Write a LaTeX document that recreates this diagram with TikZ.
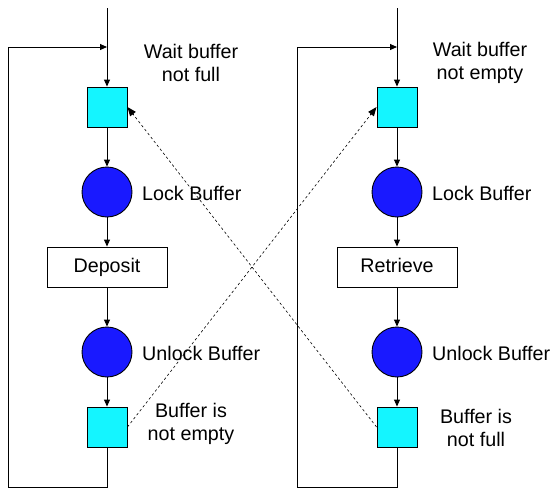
\documentclass[tikz,border=0pt]{standalone}
\usepackage{fontspec}
\setmainfont{Liberation Sans}
\usetikzlibrary{arrows.meta,calc}
\definecolor{sqcyan}{HTML}{14F5FF}
\definecolor{circblue}{HTML}{1919FF}
\begin{document}
\begin{tikzpicture}[x=1pt,y=-1pt,
  every node/.style={font=\fontsize{19.7}{23.5}\selectfont},
  place/.style={draw, line width=0.9pt, fill=sqcyan, minimum size=40pt, inner sep=0pt},
  token/.style={draw, line width=0.9pt, circle, fill=circblue, minimum size=50pt, inner sep=0pt},
  action/.style={draw, line width=0.9pt, fill=white, minimum width=120pt, minimum height=40pt, inner sep=0pt, text depth=0pt, text height=10pt},
  lbl/.style={align=center, inner sep=0pt},
  side/.style={anchor=west, inner sep=0pt},
  flow/.style={line width=0.9pt, -{Triangle[length=7pt,width=6pt]}},
  cross/.style={line width=0.6pt, dash pattern=on 2.5pt off 2.5pt, shorten >=7pt},
  crosstip/.style={line width=1pt, black, -{Triangle[length=9pt,width=7pt,fill=black]}}
]
\useasboundingbox (0,0) rectangle (558,496);
\fill[white] (0,0) rectangle (558,496);

% left column
\coordinate (ltop) at (107,8);
\coordinate (ljoin) at (107,47);
\coordinate (lbot) at (107,487);
\coordinate (lcornb) at (8,487);
\coordinate (lcornt) at (8,47);
\node[place] (lw) at (107,107) {};
\node[token] (ll) at (107,192) {};
\node[action] (dep) at (107,267) {Deposit};
\node[token] (lu) at (107,352) {};
\node[place] (lb) at (107,427) {};

% right column
\coordinate (rtop) at (397,8);
\coordinate (rjoin) at (397,47);
\coordinate (rbot) at (397,487);
\coordinate (rcornb) at (297,487);
\coordinate (rcornt) at (297,47);
\node[place] (rw) at (397,107) {};
\node[token] (rl) at (397,192) {};
\node[action] (ret) at (397,267) {Retrieve};
\node[token] (ru) at (397,352) {};
\node[place] (rb) at (397,427) {};

% labels
\node[lbl] (t1) at (191,63) {Wait buffer\\not full};
\node[side] (t2) at (142,193) {Lock Buffer};
\node[side] (t3) at (142,353) {Unlock Buffer};
\node[lbl] (t4) at (191,424) {Buffer is\\not empty};
\node[lbl] (t5) at (480,63) {Wait buffer\\not empty};
\node[side] (t6) at (432,193) {Lock Buffer};
\node[side] (t7) at (432,353) {Unlock Buffer};
\node[lbl] (t8) at (476,428) {Buffer is\\not full};

% left flow
\draw[flow] (ltop) -- (lw);
\draw[flow] (lw) -- (ll);
\draw[flow] (ll) -- (dep);
\draw[flow] (dep) -- (lu);
\draw[flow] (lu) -- (lb);
\draw[flow] (lb) -- (lbot) -- (lcornb) -- (lcornt) -- (ljoin);

% right flow
\draw[flow] (rtop) -- (rw);
\draw[flow] (rw) -- (rl);
\draw[flow] (rl) -- (ret);
\draw[flow] (ret) -- (ru);
\draw[flow] (ru) -- (rb);
\draw[flow] (rb) -- (rbot) -- (rcornb) -- (rcornt) -- (rjoin);

% crossing dashed arcs
\draw[cross] (lb.east) -- (rw.west);
\draw[crosstip] ($(rw.west)!10pt!(lb.east)$) -- (rw.west);
\draw[cross] (rb.west) -- (lw.east);
\draw[crosstip] ($(lw.east)!10pt!(rb.west)$) -- (lw.east);
\end{tikzpicture}
\end{document}
